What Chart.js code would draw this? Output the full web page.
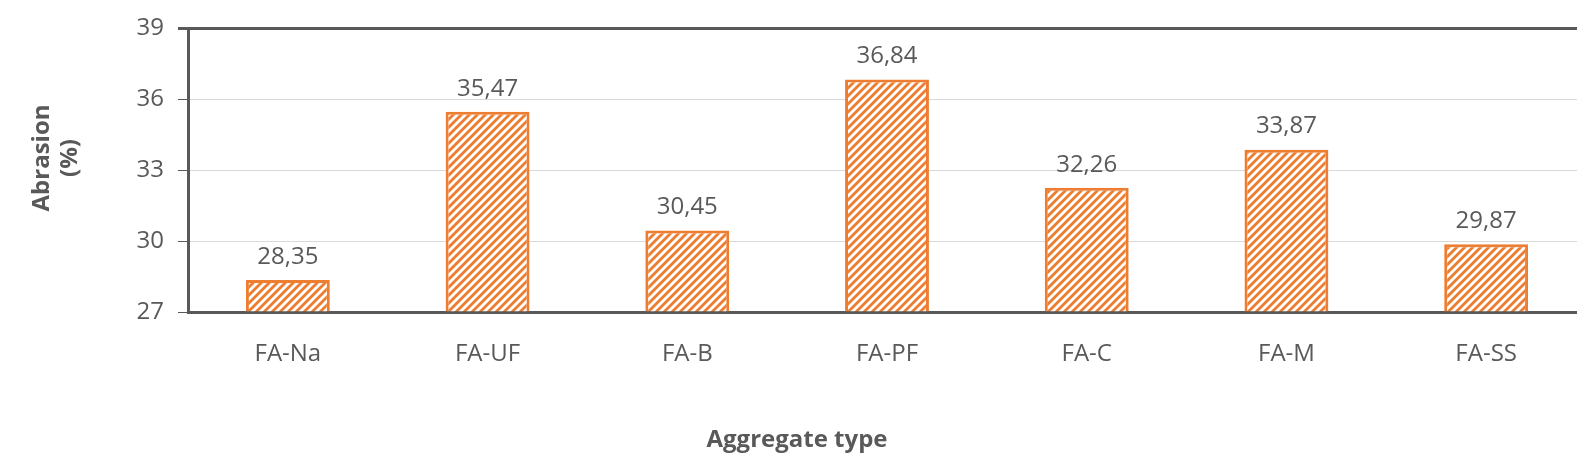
<!DOCTYPE html>
<html><head><meta charset="utf-8">
<script src="https://cdn.jsdelivr.net/npm/chart.js@4"></script>
<style>html,body{margin:0;padding:0;background:#fff;overflow:hidden;width:1577px;height:454px}#w{width:1592px;height:454px;position:relative}</style>
</head><body><div id="w"><canvas id="c"></canvas></div>
<script>
const categories=["FA-Na","FA-UF","FA-B","FA-PF","FA-C","FA-M","FA-SS"];
const values=[28.35,35.47,30.45,36.84,32.26,33.87,29.87];
const yTicks=[27,30,33,36,39];
const xTitle="Aggregate type";
const yTitle=["Abrasion","(%)"];
const orange="#ED7D31", grey="#595959", FF='"Open Sans", sans-serif';
function pat(){const c=document.createElement('canvas');c.width=8;c.height=8;const x=c.getContext('2d');
x.fillStyle='#fff';x.fillRect(0,0,8,8);x.strokeStyle=orange;x.lineWidth=2.8;
for(let o=-8;o<=16;o+=8){x.beginPath();x.moveTo(o-2,10);x.lineTo(o+10,-2);x.stroke();}
return x.createPattern(c,'repeat');}
const labelsPlugin={id:'lbl',afterDatasetsDraw(ch){const ctx=ch.ctx;const m=ch.getDatasetMeta(0);ctx.save();
ctx.font='24px '+FF;ctx.fillStyle=grey;ctx.textAlign='center';ctx.textBaseline='bottom';
m.data.forEach((b,i)=>ctx.fillText(values[i].toFixed(2).replace('.',','),b.x,b.y-11));
const a=ch.chartArea;ctx.strokeStyle=grey;ctx.lineWidth=3;ctx.beginPath();ctx.moveTo(a.left-10,a.top);ctx.lineTo(a.right,a.top);ctx.stroke();
ctx.font='bold 24px '+FF;ctx.textBaseline='middle';
ctx.fillText(xTitle,(a.left+1586)/2-94+4,440);
ctx.save();ctx.translate(42,158);ctx.rotate(-Math.PI/2);ctx.fillText(yTitle[0],0,0);ctx.restore();
ctx.save();ctx.translate(70,158);ctx.rotate(-Math.PI/2);ctx.fillText(yTitle[1],0,0);ctx.restore();
ctx.restore();}};
new Chart(document.getElementById('c'),{type:'bar',
data:{labels:categories,datasets:[{data:values,backgroundColor:pat(),borderColor:orange,borderWidth:3,barPercentage:0.42,categoryPercentage:1,base:27}]},
options:{responsive:true,maintainAspectRatio:false,animation:false,
layout:{padding:{top:26,right:6,left:0,bottom:0}},
plugins:{legend:{display:false},tooltip:{enabled:false}},
scales:{
x:{grid:{display:false},border:{color:grey,width:3},ticks:{color:grey,font:{size:24,family:FF},padding:20},
afterFit(s){s.height=142;}},
y:{min:27,max:39,afterBuildTicks(s){s.ticks=yTicks.map(v=>({value:v}));},afterFit(s){s.width=188;},
grid:{color:'#d9d9d9',lineWidth:1,drawTicks:true,tickLength:10,tickColor:grey},border:{color:grey,width:3},
ticks:{color:grey,font:{size:24,family:FF},padding:14}}}},
plugins:[labelsPlugin]});
</script></body></html>
